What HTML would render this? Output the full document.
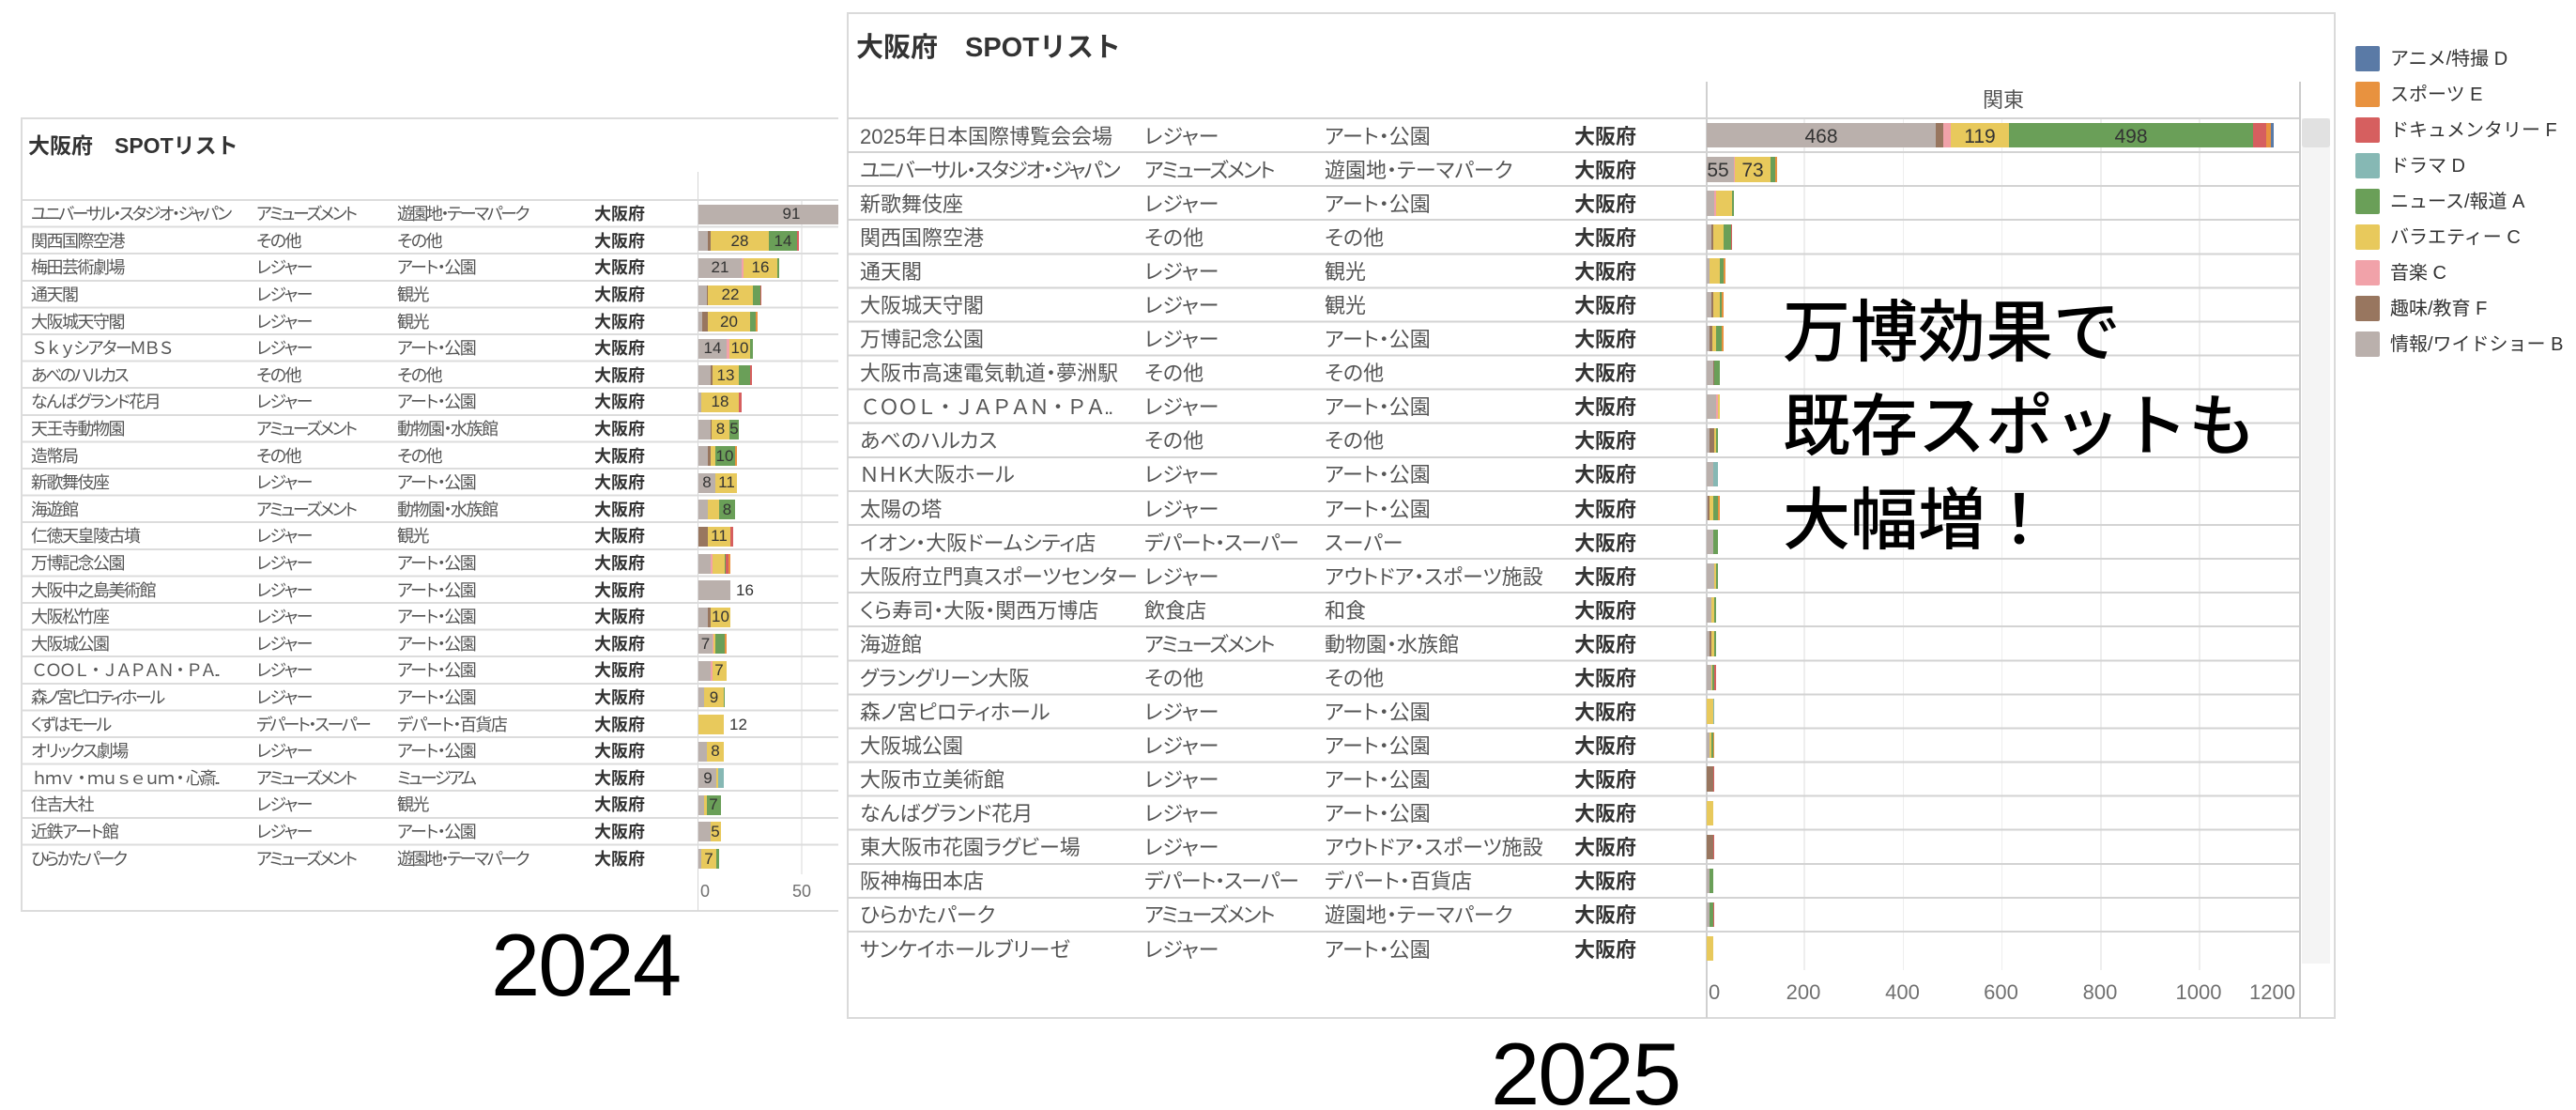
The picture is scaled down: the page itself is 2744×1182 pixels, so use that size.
<!DOCTYPE html>
<html><head><meta charset="utf-8">
<style>
*{margin:0;padding:0;box-sizing:border-box}
html,body{width:2744px;height:1182px;background:#fff;overflow:hidden}
body{position:relative;font-family:"Liberation Sans","Noto Sans CJK JP",sans-serif;color:#555}
.a{position:absolute;white-space:nowrap}
.ln{position:absolute}
.G{background:#bab0ac}.B{background:#98765f}.P{background:#f1a2a9}.Y{background:#e8c95c}.N{background:#6a9f58}.T{background:#86b8b4}.R{background:#d65f5f}.O{background:#e8923f}.A{background:#5a7aa6}
.bar{position:absolute;display:flex}
.bar i{display:block;height:100%;flex:none}
.rows{position:absolute;left:0}
.lr{position:relative;height:28.6px;line-height:28.6px;font-size:18px;width:893px;overflow:hidden;white-space:nowrap;font-feature-settings:"palt"}
.lr span,.rr span{position:absolute;top:0}
.lr .c1,.lr .c2,.lr .c3{letter-spacing:-1.5px}
.lr .c1{left:33px}.lr .c2{left:273px}.lr .c3{left:423px}.lr .c4{left:633px;font-weight:bold;color:#333}
.lr .bar{left:744px;top:3.5px;height:21px}
.lr .v{transform:translateX(-50%);font-size:17px;color:#333;letter-spacing:0}
.lr .o{font-size:17px;color:#333}
.lr .k{letter-spacing:-2.5px}
.lr .fw{font-feature-settings:normal;letter-spacing:-3px}
.rr{position:relative;height:36.08px;line-height:36.08px;font-size:22px;width:2449px;white-space:nowrap;font-feature-settings:"palt"}
.rr .d1{left:916px}.rr .d2{left:1219px}.rr .d3{left:1411px}.rr .d4{left:1677px;font-weight:bold;color:#333}
.rr .bar{left:1818px;top:3.3px;height:26.5px}
.rr .v{transform:translateX(-50%);font-size:21px;color:#333}
.rr .k{letter-spacing:-2px}
.rr .k2{letter-spacing:-1.2px}
.rr .fw{font-feature-settings:normal;letter-spacing:-2px}
.lg{position:absolute;left:2509px;width:26px;height:27px;border-radius:2px}
.lt{position:absolute;left:2546px;font-size:20px;line-height:30px;color:#333;white-space:nowrap}
.ax{position:absolute;color:#707070;white-space:nowrap}
</style></head><body>

<!-- ===== LEFT PANEL (2024) ===== -->
<div class="ln" style="left:23px;top:125px;width:870px;height:2px;background:#dcdcdc"></div>
<div class="ln" style="left:22px;top:125px;width:2px;height:846px;background:#dcdcdc"></div>
<div class="ln" style="left:23px;top:969px;width:870px;height:2px;background:#dcdcdc"></div>
<div class="ln" style="left:743px;top:183px;width:1px;height:787px;background:#d6d6d6"></div>
<div class="ln" style="left:853px;top:213px;width:1.5px;height:718px;background:#ececec"></div>
<div class="ln" style="left:23px;top:212.3px;width:870px;height:688.4px;background:repeating-linear-gradient(to bottom,#dcdcdc 0,#dcdcdc 2px,transparent 2px,transparent 28.6px)"></div>

<div class="a" style="left:30px;top:140px;font-size:23px;font-weight:bold;color:#333;line-height:30px">大阪府　SPOTリスト</div>

<div class="rows" style="top:214.3px">
<div class="lr"><span class="c1 k">ユニバーサル・スタジオ・ジャパン</span><span class="c2 k">アミューズメント</span><span class="c3 k">遊園地・テーマパーク</span><span class="c4">大阪府</span><div class="bar"><i class="G" style="width:199px"></i></div><span class="v" style="left:843px">91</span></div>
<div class="lr"><span class="c1">関西国際空港</span><span class="c2">その他</span><span class="c3">その他</span><span class="c4">大阪府</span><div class="bar"><i class="G" style="width:10px"></i><i class="B" style="width:2.7px"></i><i class="Y" style="width:62.3px"></i><i class="N" style="width:30.3px"></i><i class="R" style="width:2px"></i></div><span class="v" style="left:788px">28</span><span class="v" style="left:834px">14</span></div>
<div class="lr"><span class="c1">梅田芸術劇場</span><span class="c2">レジャー</span><span class="c3">アート・公園</span><span class="c4">大阪府</span><div class="bar"><i class="G" style="width:46.3px"></i><i class="P" style="width:1.3px"></i><i class="Y" style="width:36.3px"></i><i class="N" style="width:2.3px"></i></div><span class="v" style="left:767px">21</span><span class="v" style="left:810px">16</span></div>
<div class="lr"><span class="c1">通天閣</span><span class="c2">レジャー</span><span class="c3">観光</span><span class="c4">大阪府</span><div class="bar"><i class="G" style="width:8.7px"></i><i class="B" style="width:1.3px"></i><i class="Y" style="width:48px"></i><i class="N" style="width:7.7px"></i><i class="R" style="width:1.3px"></i></div><span class="v" style="left:778px">22</span></div>
<div class="lr"><span class="c1">大阪城天守閣</span><span class="c2">レジャー</span><span class="c3">観光</span><span class="c4">大阪府</span><div class="bar"><i class="G" style="width:4px"></i><i class="B" style="width:6px"></i><i class="Y" style="width:45px"></i><i class="N" style="width:6.3px"></i><i class="O" style="width:1.3px"></i></div><span class="v" style="left:776.5px">20</span></div>
<div class="lr"><span class="c1 fw">ＳｋｙシアターＭＢＳ</span><span class="c2">レジャー</span><span class="c3">アート・公園</span><span class="c4">大阪府</span><div class="bar"><i class="G" style="width:30px"></i><i class="P" style="width:2.7px"></i><i class="Y" style="width:22.3px"></i><i class="N" style="width:2.7px"></i></div><span class="v" style="left:759px">14</span><span class="v" style="left:788px">10</span></div>
<div class="lr"><span class="c1 k">あべのハルカス</span><span class="c2">その他</span><span class="c3">その他</span><span class="c4">大阪府</span><div class="bar"><i class="G" style="width:12.7px"></i><i class="B" style="width:2px"></i><i class="Y" style="width:28.3px"></i><i class="N" style="width:12.3px"></i><i class="R" style="width:1.3px"></i></div><span class="v" style="left:773px">13</span></div>
<div class="lr"><span class="c1">なんばグランド花月</span><span class="c2">レジャー</span><span class="c3">アート・公園</span><span class="c4">大阪府</span><div class="bar"><i class="G" style="width:3.3px"></i><i class="Y" style="width:39.7px"></i><i class="R" style="width:2.7px"></i></div><span class="v" style="left:767px">18</span></div>
<div class="lr"><span class="c1">天王寺動物園</span><span class="c2 k">アミューズメント</span><span class="c3">動物園・水族館</span><span class="c4">大阪府</span><div class="bar"><i class="G" style="width:12.7px"></i><i class="B" style="width:1.7px"></i><i class="Y" style="width:18.3px"></i><i class="N" style="width:10.3px"></i></div><span class="v" style="left:767.5px">8</span><span class="v" style="left:782px">5</span></div>
<div class="lr"><span class="c1">造幣局</span><span class="c2">その他</span><span class="c3">その他</span><span class="c4">大阪府</span><div class="bar"><i class="G" style="width:10px"></i><i class="B" style="width:2.7px"></i><i class="Y" style="width:5.3px"></i><i class="N" style="width:20.7px"></i><i class="O" style="width:2.7px"></i></div><span class="v" style="left:772px">10</span></div>
<div class="lr"><span class="c1">新歌舞伎座</span><span class="c2">レジャー</span><span class="c3">アート・公園</span><span class="c4">大阪府</span><div class="bar"><i class="G" style="width:18px"></i><i class="Y" style="width:23.3px"></i></div><span class="v" style="left:753px">8</span><span class="v" style="left:774px">11</span></div>
<div class="lr"><span class="c1">海遊館</span><span class="c2 k">アミューズメント</span><span class="c3">動物園・水族館</span><span class="c4">大阪府</span><div class="bar"><i class="G" style="width:10px"></i><i class="Y" style="width:12px"></i><i class="N" style="width:16.7px"></i></div><span class="v" style="left:774.5px">8</span></div>
<div class="lr"><span class="c1">仁徳天皇陵古墳</span><span class="c2">レジャー</span><span class="c3">観光</span><span class="c4">大阪府</span><div class="bar"><i class="B" style="width:10px"></i><i class="Y" style="width:24px"></i><i class="R" style="width:2.7px"></i></div><span class="v" style="left:766px">11</span></div>
<div class="lr"><span class="c1">万博記念公園</span><span class="c2">レジャー</span><span class="c3">アート・公園</span><span class="c4">大阪府</span><div class="bar"><i class="G" style="width:13.3px"></i><i class="P" style="width:1.3px"></i><i class="Y" style="width:13.3px"></i><i class="N" style="width:1.3px"></i><i class="R" style="width:3.3px"></i><i class="O" style="width:1.3px"></i></div></div>
<div class="lr"><span class="c1">大阪中之島美術館</span><span class="c2">レジャー</span><span class="c3">アート・公園</span><span class="c4">大阪府</span><div class="bar"><i class="G" style="width:34px"></i></div><span class="o" style="left:784px">16</span></div>
<div class="lr"><span class="c1">大阪松竹座</span><span class="c2">レジャー</span><span class="c3">アート・公園</span><span class="c4">大阪府</span><div class="bar"><i class="G" style="width:10px"></i><i class="B" style="width:2.7px"></i><i class="Y" style="width:21.3px"></i></div><span class="v" style="left:767.5px">10</span></div>
<div class="lr"><span class="c1">大阪城公園</span><span class="c2">レジャー</span><span class="c3">アート・公園</span><span class="c4">大阪府</span><div class="bar"><i class="G" style="width:14.7px"></i><i class="P" style="width:1.3px"></i><i class="Y" style="width:2px"></i><i class="N" style="width:10px"></i><i class="O" style="width:1.7px"></i></div><span class="v" style="left:751.5px">7</span></div>
<div class="lr"><span class="c1 fw">ＣＯＯＬ・ＪＡＰＡＮ・ＰＡ..</span><span class="c2">レジャー</span><span class="c3">アート・公園</span><span class="c4">大阪府</span><div class="bar"><i class="G" style="width:13.3px"></i><i class="P" style="width:1.3px"></i><i class="Y" style="width:15px"></i></div><span class="v" style="left:766px">7</span></div>
<div class="lr"><span class="c1 k">森ノ宮ピロティホール</span><span class="c2">レジャー</span><span class="c3">アート・公園</span><span class="c4">大阪府</span><div class="bar"><i class="G" style="width:6px"></i><i class="Y" style="width:20.7px"></i><i class="N" style="width:1.3px"></i></div><span class="v" style="left:760.5px">9</span></div>
<div class="lr"><span class="c1 k">くずはモール</span><span class="c2 k">デパート・スーパー</span><span class="c3">デパート・百貨店</span><span class="c4">大阪府</span><div class="bar"><i class="Y" style="width:26.7px"></i></div><span class="o" style="left:777px">12</span></div>
<div class="lr"><span class="c1">オリックス劇場</span><span class="c2">レジャー</span><span class="c3">アート・公園</span><span class="c4">大阪府</span><div class="bar"><i class="G" style="width:8.7px"></i><i class="Y" style="width:18px"></i></div><span class="v" style="left:762px">8</span></div>
<div class="lr"><span class="c1 fw">ｈｍｖ・ｍｕｓｅｕｍ・心斎..</span><span class="c2 k">アミューズメント</span><span class="c3 k">ミュージアム</span><span class="c4">大阪府</span><div class="bar"><i class="G" style="width:19.3px"></i><i class="Y" style="width:2px"></i><i class="T" style="width:5.3px"></i></div><span class="v" style="left:754px">9</span></div>
<div class="lr"><span class="c1">住吉大社</span><span class="c2">レジャー</span><span class="c3">観光</span><span class="c4">大阪府</span><div class="bar"><i class="G" style="width:6px"></i><i class="Y" style="width:2.7px"></i><i class="N" style="width:15px"></i></div><span class="v" style="left:760px">7</span></div>
<div class="lr"><span class="c1">近鉄アート館</span><span class="c2">レジャー</span><span class="c3">アート・公園</span><span class="c4">大阪府</span><div class="bar"><i class="G" style="width:13.3px"></i><i class="Y" style="width:10.3px"></i></div><span class="v" style="left:762px">5</span></div>
<div class="lr"><span class="c1 k">ひらかたパーク</span><span class="c2 k">アミューズメント</span><span class="c3 k">遊園地・テーマパーク</span><span class="c4">大阪府</span><div class="bar"><i class="G" style="width:3.3px"></i><i class="Y" style="width:16px"></i><i class="N" style="width:2.7px"></i></div><span class="v" style="left:755px">7</span></div>
</div>

<div class="ax" style="left:746px;top:936px;font-size:18px;line-height:26px">0</div>
<div class="ax" style="left:854px;top:936px;font-size:18px;line-height:26px;transform:translateX(-50%)">50</div>

<div class="a" style="left:523px;top:981px;font-size:94px;line-height:94px;letter-spacing:-2px;color:#000">2024</div>

<!-- ===== RIGHT PANEL (2025) ===== -->
<div class="ln" style="left:903px;top:13px;width:1584px;height:2px;background:#dadada"></div>
<div class="ln" style="left:902px;top:13px;width:2px;height:1072px;background:#dadada"></div>
<div class="ln" style="left:2486px;top:13px;width:2px;height:1072px;background:#dadada"></div>
<div class="ln" style="left:903px;top:1083px;width:1584px;height:2px;background:#dadada"></div>

<div class="ln" style="left:1921px;top:126px;width:1.5px;height:907px;background:#eeeeee"></div>
<div class="ln" style="left:2026.5px;top:126px;width:1.5px;height:907px;background:#eeeeee"></div>
<div class="ln" style="left:2131.5px;top:126px;width:1.5px;height:907px;background:#eeeeee"></div>
<div class="ln" style="left:2237px;top:126px;width:1.5px;height:907px;background:#eeeeee"></div>
<div class="ln" style="left:2342px;top:126px;width:1.5px;height:907px;background:#eeeeee"></div>

<div class="ln" style="left:1817px;top:87px;width:1.5px;height:997px;background:#d0d0d0"></div>
<div class="ln" style="left:2449px;top:87px;width:1.5px;height:997px;background:#cccccc"></div>
<div class="ln" style="left:903px;top:124.7px;width:1546px;height:867.9px;background:repeating-linear-gradient(to bottom,#d3d3d3 0,#d3d3d3 2px,transparent 2px,transparent 36.08px)"></div>

<div class="ln" style="left:2452px;top:126px;width:30px;height:900px;background:#f4f4f4"></div>
<div class="ln" style="left:2452px;top:126px;width:30px;height:31px;background:#e1e1e1;border-radius:3px"></div>

<div class="a" style="left:912px;top:33px;font-size:29px;font-weight:bold;color:#333;line-height:36px">大阪府　SPOTリスト</div>
<div class="a" style="left:2134px;top:92px;font-size:22px;line-height:30px;color:#555;transform:translateX(-50%)">関東</div>

<div class="rows" style="top:127.7px">
<div class="rr"><span class="d1">2025年日本国際博覧会会場</span><span class="d2">レジャー</span><span class="d3">アート・公園</span><span class="d4">大阪府</span><div class="bar"><i class="G" style="width:244px"></i><i class="B" style="width:8px"></i><i class="P" style="width:7.5px"></i><i class="Y" style="width:62.5px"></i><i class="N" style="width:260px"></i><i class="R" style="width:14px"></i><i class="O" style="width:5px"></i><i class="A" style="width:2.5px"></i></div><span class="v" style="left:1940px">468</span><span class="v" style="left:2109px">119</span><span class="v" style="left:2270px">498</span></div>
<div class="rr"><span class="d1 k">ユニバーサル・スタジオ・ジャパン</span><span class="d2 k">アミューズメント</span><span class="d3">遊園地・テーマパーク</span><span class="d4">大阪府</span><div class="bar"><i class="G" style="width:29px"></i><i class="P" style="width:1px"></i><i class="Y" style="width:37.5px"></i><i class="N" style="width:5px"></i><i class="O" style="width:2.5px"></i></div><span class="v" style="left:1830px">55</span><span class="v" style="left:1867px">73</span></div>
<div class="rr"><span class="d1">新歌舞伎座</span><span class="d2">レジャー</span><span class="d3">アート・公園</span><span class="d4">大阪府</span><div class="bar"><i class="G" style="width:8.3px"></i><i class="P" style="width:1.7px"></i><i class="Y" style="width:17.3px"></i><i class="N" style="width:2px"></i></div></div>
<div class="rr"><span class="d1">関西国際空港</span><span class="d2">その他</span><span class="d3">その他</span><span class="d4">大阪府</span><div class="bar"><i class="G" style="width:5px"></i><i class="B" style="width:1.7px"></i><i class="Y" style="width:11.3px"></i><i class="N" style="width:8px"></i><i class="R" style="width:1.3px"></i></div></div>
<div class="rr"><span class="d1">通天閣</span><span class="d2">レジャー</span><span class="d3">観光</span><span class="d4">大阪府</span><div class="bar"><i class="G" style="width:2.7px"></i><i class="Y" style="width:11.3px"></i><i class="N" style="width:3.7px"></i><i class="O" style="width:2px"></i></div></div>
<div class="rr"><span class="d1">大阪城天守閣</span><span class="d2">レジャー</span><span class="d3">観光</span><span class="d4">大阪府</span><div class="bar"><i class="G" style="width:4.7px"></i><i class="B" style="width:2px"></i><i class="Y" style="width:7.3px"></i><i class="N" style="width:2px"></i><i class="O" style="width:1.7px"></i></div></div>
<div class="rr"><span class="d1">万博記念公園</span><span class="d2">レジャー</span><span class="d3">アート・公園</span><span class="d4">大阪府</span><div class="bar"><i class="G" style="width:2.7px"></i><i class="B" style="width:3.7px"></i><i class="Y" style="width:3.7px"></i><i class="N" style="width:6px"></i><i class="O" style="width:1.7px"></i></div></div>
<div class="rr"><span class="d1">大阪市高速電気軌道・夢洲駅</span><span class="d2">その他</span><span class="d3">その他</span><span class="d4">大阪府</span><div class="bar"><i class="G" style="width:6.7px"></i><i class="B" style="width:1px"></i><i class="N" style="width:6.3px"></i></div></div>
<div class="rr"><span class="d1 fw">ＣＯＯＬ・ＪＡＰＡＮ・ＰＡ..</span><span class="d2">レジャー</span><span class="d3">アート・公園</span><span class="d4">大阪府</span><div class="bar"><i class="G" style="width:10px"></i><i class="P" style="width:1.7px"></i><i class="Y" style="width:2.3px"></i></div></div>
<div class="rr"><span class="d1">あべのハルカス</span><span class="d2">その他</span><span class="d3">その他</span><span class="d4">大阪府</span><div class="bar"><i class="G" style="width:2.7px"></i><i class="B" style="width:5.3px"></i><i class="Y" style="width:2px"></i><i class="N" style="width:2px"></i></div></div>
<div class="rr"><span class="d1">ＮＨＫ大阪ホール</span><span class="d2">レジャー</span><span class="d3">アート・公園</span><span class="d4">大阪府</span><div class="bar"><i class="G" style="width:6.7px"></i><i class="T" style="width:5.3px"></i></div></div>
<div class="rr"><span class="d1">太陽の塔</span><span class="d2">レジャー</span><span class="d3">アート・公園</span><span class="d4">大阪府</span><div class="bar"><i class="G" style="width:1px"></i><i class="B" style="width:1.7px"></i><i class="Y" style="width:4px"></i><i class="N" style="width:5.7px"></i><i class="O" style="width:1.7px"></i></div></div>
<div class="rr"><span class="d1">イオン・大阪ドームシティ店</span><span class="d2 k2">デパート・スーパー</span><span class="d3">スーパー</span><span class="d4">大阪府</span><div class="bar"><i class="G" style="width:6.7px"></i><i class="N" style="width:5.3px"></i></div></div>
<div class="rr"><span class="d1">大阪府立門真スポーツセンター</span><span class="d2">レジャー</span><span class="d3">アウトドア・スポーツ施設</span><span class="d4">大阪府</span><div class="bar"><i class="G" style="width:8.3px"></i><i class="Y" style="width:1.7px"></i><i class="N" style="width:2.3px"></i></div></div>
<div class="rr"><span class="d1">くら寿司・大阪・関西万博店</span><span class="d2">飲食店</span><span class="d3">和食</span><span class="d4">大阪府</span><div class="bar"><i class="G" style="width:5px"></i><i class="Y" style="width:3.3px"></i><i class="N" style="width:1.7px"></i></div></div>
<div class="rr"><span class="d1">海遊館</span><span class="d2 k">アミューズメント</span><span class="d3">動物園・水族館</span><span class="d4">大阪府</span><div class="bar"><i class="G" style="width:3.3px"></i><i class="B" style="width:1.3px"></i><i class="Y" style="width:3.7px"></i><i class="N" style="width:1.7px"></i></div></div>
<div class="rr"><span class="d1">グラングリーン大阪</span><span class="d2">その他</span><span class="d3">その他</span><span class="d4">大阪府</span><div class="bar"><i class="G" style="width:5px"></i><i class="Y" style="width:1px"></i><i class="N" style="width:1.7px"></i><i class="R" style="width:2.3px"></i></div></div>
<div class="rr"><span class="d1">森ノ宮ピロティホール</span><span class="d2">レジャー</span><span class="d3">アート・公園</span><span class="d4">大阪府</span><div class="bar"><i class="Y" style="width:6.7px"></i><i class="T" style="width:1.7px"></i></div></div>
<div class="rr"><span class="d1">大阪城公園</span><span class="d2">レジャー</span><span class="d3">アート・公園</span><span class="d4">大阪府</span><div class="bar"><i class="G" style="width:3.3px"></i><i class="Y" style="width:1.3px"></i><i class="N" style="width:2px"></i><i class="O" style="width:1.7px"></i></div></div>
<div class="rr"><span class="d1">大阪市立美術館</span><span class="d2">レジャー</span><span class="d3">アート・公園</span><span class="d4">大阪府</span><div class="bar"><i class="B" style="width:6.7px"></i><i class="R" style="width:1.7px"></i></div></div>
<div class="rr"><span class="d1">なんばグランド花月</span><span class="d2">レジャー</span><span class="d3">アート・公園</span><span class="d4">大阪府</span><div class="bar"><i class="Y" style="width:6.7px"></i></div></div>
<div class="rr"><span class="d1">東大阪市花園ラグビー場</span><span class="d2">レジャー</span><span class="d3">アウトドア・スポーツ施設</span><span class="d4">大阪府</span><div class="bar"><i class="B" style="width:6.7px"></i><i class="R" style="width:1.7px"></i></div></div>
<div class="rr"><span class="d1">阪神梅田本店</span><span class="d2 k2">デパート・スーパー</span><span class="d3">デパート・百貨店</span><span class="d4">大阪府</span><div class="bar"><i class="G" style="width:2.7px"></i><i class="N" style="width:4px"></i></div></div>
<div class="rr"><span class="d1">ひらかたパーク</span><span class="d2 k">アミューズメント</span><span class="d3">遊園地・テーマパーク</span><span class="d4">大阪府</span><div class="bar"><i class="G" style="width:2.7px"></i><i class="N" style="width:4.7px"></i><i class="R" style="width:1px"></i></div></div>
<div class="rr"><span class="d1">サンケイホールブリーゼ</span><span class="d2">レジャー</span><span class="d3">アート・公園</span><span class="d4">大阪府</span><div class="bar"><i class="Y" style="width:6.7px"></i></div></div>
</div>

<div class="ax" style="left:1820px;top:1042px;font-size:22px;line-height:30px">0</div>
<div class="ax" style="left:1921px;top:1042px;font-size:22px;line-height:30px;transform:translateX(-50%)">200</div>
<div class="ax" style="left:2026.5px;top:1042px;font-size:22px;line-height:30px;transform:translateX(-50%)">400</div>
<div class="ax" style="left:2131.5px;top:1042px;font-size:22px;line-height:30px;transform:translateX(-50%)">600</div>
<div class="ax" style="left:2237px;top:1042px;font-size:22px;line-height:30px;transform:translateX(-50%)">800</div>
<div class="ax" style="left:2342px;top:1042px;font-size:22px;line-height:30px;transform:translateX(-50%)">1000</div>
<div class="ax" style="left:2445px;top:1042px;font-size:22px;line-height:30px;transform:translateX(-100%)">1200</div>

<div class="a" style="left:1899px;top:298px;font-family:'Noto Sans CJK JP',sans-serif;font-size:72px;line-height:100px;color:#000;font-weight:500">万博効果で<br>既存スポットも<br>大幅増！</div>

<div class="a" style="left:1588px;top:1097px;font-size:94px;line-height:94px;letter-spacing:-2px;color:#000">2025</div>

<!-- ===== LEGEND ===== -->
<div class="lg A" style="top:49px"></div><div class="lt" style="top:47.5px">アニメ/特撮 D</div>
<div class="lg O" style="top:87px"></div><div class="lt" style="top:85.5px">スポーツ E</div>
<div class="lg R" style="top:125px"></div><div class="lt" style="top:123.5px">ドキュメンタリー F</div>
<div class="lg T" style="top:163px"></div><div class="lt" style="top:161.5px">ドラマ D</div>
<div class="lg N" style="top:201px"></div><div class="lt" style="top:199.5px">ニュース/報道 A</div>
<div class="lg Y" style="top:239px"></div><div class="lt" style="top:237.5px">バラエティー C</div>
<div class="lg P" style="top:277px"></div><div class="lt" style="top:275.5px">音楽 C</div>
<div class="lg B" style="top:315px"></div><div class="lt" style="top:313.5px">趣味/教育 F</div>
<div class="lg G" style="top:353px"></div><div class="lt" style="top:351.5px">情報/ワイドショー B</div>

</body></html>
